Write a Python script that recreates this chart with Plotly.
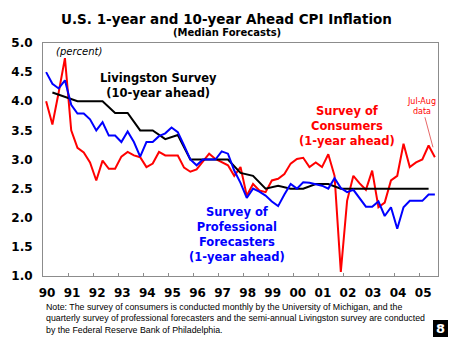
import plotly.graph_objects as go

# ---------------- data ----------------
year_ticks = list(range(1990, 2006))
year_labels = ["90", "91", "92", "93", "94", "95", "96", "97",
               "98", "99", "00", "01", "02", "03", "04", "05"]

# Survey of Consumers (Univ. of Michigan), 1-year ahead, quarterly 1990Q1-2005Q3
consumers = [4.00, 3.60, 4.15, 4.74,
             3.50, 3.20, 3.12, 2.95,
             2.64, 2.98, 2.84, 2.84,
             3.05, 3.13, 3.07, 3.04,
             2.87, 2.93, 3.13, 3.07,
             3.07, 3.07, 2.86, 2.79,
             2.83, 2.97, 3.10, 3.01,
             2.95, 2.90, 2.72, 2.87,
             2.38, 2.58, 2.47, 2.44,
             2.64, 2.67, 2.75, 2.93,
             3.01, 3.03, 2.87, 2.95,
             2.87, 3.09, 2.72, 1.07,
             2.29, 2.72, 2.59, 2.48,
             2.81, 2.18, 2.26, 2.64,
             2.72, 3.27, 2.87, 2.95,
             3.00, 3.24, 3.04]

# Survey of Professional Forecasters, 1-year ahead, quarterly 1990Q1-2005Q3
spf = [4.50, 4.30, 4.22, 4.36,
       3.94, 3.79, 3.79, 3.69,
       3.50, 3.64, 3.41, 3.41,
       3.30, 3.48, 3.30, 3.05,
       3.30, 3.30, 3.40, 3.45,
       3.55, 3.47, 3.24, 3.00,
       2.90, 3.00, 3.00, 3.00,
       3.14, 3.10, 2.81, 2.60,
       2.34, 2.50, 2.45, 2.38,
       2.28, 2.20, 2.40, 2.58,
       2.50, 2.61, 2.60, 2.58,
       2.55, 2.50, 2.68, 2.51,
       2.44, 2.48, 2.34, 2.19,
       2.19, 2.28, 2.03, 2.18,
       1.81, 2.18, 2.29, 2.29,
       2.29, 2.40, 2.40]

# Livingston Survey, 10-year ahead, semi-annual (Jun/Dec) 1990H1-2005H1
livingston = [4.15, 4.08, 4.00, 4.00, 4.00, 3.80, 3.80, 3.50,
              3.50, 3.35, 3.42, 3.00, 3.00, 3.00, 3.00, 2.77,
              2.72, 2.50, 2.55, 2.50, 2.50, 2.58, 2.58, 2.50,
              2.50, 2.50, 2.50, 2.50, 2.50, 2.50, 2.50]

y_ticks = [1.0, 1.5, 2.0, 2.5, 3.0, 3.5, 4.0, 4.5, 5.0]

# time positions (mid-quarter / mid-half-year in fractional years)
q_x = [1990 + (i + 0.5) / 4 for i in range(len(consumers))]
h_x = [1990 + 0.375 + i * 0.5 for i in range(len(livingston))]

FONT = "DejaVu Sans"
RED = "#FF0000"
BLUE = "#0000FF"
AXIS = "#8C8C8C"

fig = go.Figure()
fig.add_trace(go.Scatter(x=q_x, y=consumers, mode="lines",
                         line=dict(color=RED, width=2), name="Survey of Consumers"))
fig.add_trace(go.Scatter(x=h_x, y=livingston, mode="lines",
                         line=dict(color="black", width=2), name="Livingston"))
fig.add_trace(go.Scatter(x=q_x[:len(spf)], y=spf, mode="lines",
                         line=dict(color=BLUE, width=2), name="SPF"))

fig.update_layout(
    width=450, height=338,
    margin=dict(l=42, r=11, t=43, b=62),
    paper_bgcolor="white", plot_bgcolor="white",
    showlegend=False,
    font=dict(family=FONT, color="black"),
)
fig.update_xaxes(
    range=[1990, 2005.75],
    tickvals=year_ticks, ticktext=year_labels,
    ticks="inside", ticklen=3, tickcolor=AXIS,
    ticklabelshift=4, ticklabelstandoff=6,
    tickfont=dict(family=FONT, size=12, weight="bold", color="black"),
    showline=True, linecolor=AXIS, linewidth=1, mirror=True,
    showgrid=False, zeroline=False,
)
fig.update_yaxes(
    range=[1, 5],
    tickvals=y_ticks, ticktext=[f"{v:.1f}" for v in y_ticks],
    ticks="", ticklabelstandoff=7,
    tickfont=dict(family=FONT, size=12, weight="bold", color="black"),
    showline=True, linecolor=AXIS, linewidth=1, mirror=True,
    showgrid=False, zeroline=False,
)

ann = []
ann.append(dict(xref="paper", yref="paper", x=0.4646, y=1.103,
                text="<b>U.S. 1-year and 10-year Ahead CPI Inflation</b>",
                showarrow=False, xanchor="center", yanchor="middle",
                font=dict(family=FONT, size=13.5, color="black")))
ann.append(dict(xref="paper", yref="paper", x=0.4646, y=1.043,
                text="<b>(Median Forecasts)</b>",
                showarrow=False, xanchor="center", yanchor="middle",
                font=dict(family=FONT, size=10, color="black")))
ann.append(dict(x=1991.43, y=4.85, text="<i>(percent)</i>", showarrow=False,
                xanchor="center", yanchor="middle",
                font=dict(family=FONT, size=10, color="black")))
ann.append(dict(x=1994.6, y=4.27, text="<b>Livingston Survey<br>(10-year ahead)</b>",
                showarrow=False, xanchor="center", yanchor="middle",
                font=dict(family=FONT, size=11.5, color="black")))
ann.append(dict(x=2002.13, y=3.575,
                text="<b>Survey of<br>Consumers<br>(1-year ahead)</b>",
                showarrow=False, xanchor="center", yanchor="middle",
                font=dict(family=FONT, size=11.5, color=RED)))
ann.append(dict(x=1997.75, y=1.71,
                text="<b>Survey of<br>Professional<br>Forecasters<br>(1-year ahead)</b>",
                showarrow=False, xanchor="center", yanchor="middle",
                font=dict(family=FONT, size=11.5, color=BLUE)))
ann.append(dict(x=2005.55, y=3.21, ax=-11, ay=-41,
                text="Jul-Aug<br>data", showarrow=True, arrowhead=0,
                arrowwidth=0.8, arrowcolor="#E04040",
                font=dict(family=FONT, size=8, color=RED)))
ann.append(dict(xref="paper", yref="paper", x=0.002, y=-0.105,
                xanchor="left", yanchor="top", align="left", showarrow=False,
                text=("Note: The survey of consumers is conducted monthly by the University of Michigan, and the<br>"
                      "quarterly survey of professional forecasters and the semi-annual Livingston survey are conducted<br>"
                      "by the Federal Reserve Bank of Philadelphia."),
                font=dict(family="Liberation Sans", size=8.8, color="black")))
ann.append(dict(xref="paper", yref="paper", x=1.0063, y=-0.2253,
                text="<b>8</b>", showarrow=False, xanchor="center", yanchor="middle",
                font=dict(family=FONT, size=13, color="white")))
fig.update_layout(annotations=ann)
fig.add_shape(type="rect", xref="paper", yref="paper",
              x0=0.9874, x1=1.0253, y0=-0.2618, y1=-0.1888,
              fillcolor="black", line=dict(width=0))

fig.write_html("out.html")
